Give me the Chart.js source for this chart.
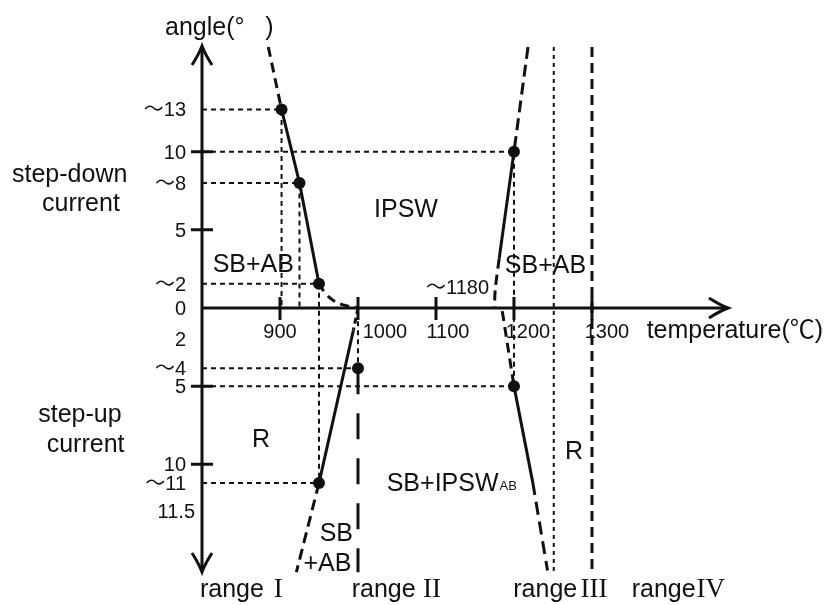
<!DOCTYPE html>
<html>
<head>
<meta charset="utf-8">
<script src="https://cdn.jsdelivr.net/npm/chart.js@4.4.1/dist/chart.umd.min.js"></script>
<style>
html, body { margin: 0; padding: 0; background: #fff; }
#wrap { width: 839px; height: 605px; }
</style>
</head>
<body>
<div id="wrap"><canvas id="diagram"></canvas></div>
<script>
// x: temperature (deg C), y: angle (deg); step-down current above 0, step-up current below (negative)
const xTicks = [900, 1000, 1100, 1200, 1300];
const yTickValues = [12.7, 10, 8, 5, 1.55, 0, -2, -3.85, -5, -10, -11.2, -13];
const yTickLabels = ['〜13', '10', '〜8', '5', '〜2', '0', '2', '〜4', '5', '10', '〜11', '11.5'];
const yTickMarks = [10, 5, -5, -10];

// measured points
const points = [
    {x: 902, y: 12.7}, {x: 925, y: 8}, {x: 950, y: 1.55},
    {x: 1000, y: -3.85}, {x: 950, y: -11.2},
    {x: 1200, y: 10}, {x: 1200, y: -5}
];

// low temperature boundary, step-down side
const lowDownDashed = [{x: 885, y: 16.7}, {x: 902, y: 12.7}];
const lowDownSolid = [{x: 902, y: 12.7}, {x: 925, y: 8}, {x: 950, y: 1.55}];
const lowDownTail = [{x: 950, y: 1.55}, {x: 958, y: 0.95}, {x: 968, y: 0.5}, {x: 981, y: 0.2}, {x: 1000, y: 0}];
// low temperature boundary, step-up side
const lowUpDashedTop = [{x: 1000, y: 0}, {x: 994, y: -1.44}];
const lowUpSolid = [{x: 994, y: -1.44}, {x: 950, y: -11.2}];
const lowUpDashed = [{x: 950, y: -11.2}, {x: 921, y: -16.9}];
// high temperature boundary
const highDownDashed = [{x: 1218, y: 16.7}, {x: 1200, y: 10}];
const highDownSolid = [{x: 1200, y: 10}, {x: 1181, y: 3.15}];
const highDownTail = [{x: 1181, y: 3.15}, {x: 1176, y: 1.2}, {x: 1175, y: 0}];
const highUpDashedTop = [{x: 1185, y: -0.2}, {x: 1200, y: -5}];
const highUpSolid = [{x: 1200, y: -5}, {x: 1224, y: -11.14}];
const highUpDashed = [{x: 1224, y: -11.14}, {x: 1243, y: -16.8}];
// range borders
const border1000 = [{x: 1000, y: -3.85}, {x: 1000, y: -16.9}];
const border1250 = [{x: 1251, y: 16.7}, {x: 1251, y: -16.9}];
const border1300 = [{x: 1300, y: 16.7}, {x: 1300, y: -16.9}];

// guide lines from the measured points to the axes
const guides = [
    [{x: 800, y: 12.7}, {x: 902, y: 12.7}, {x: 902, y: 0}],
    [{x: 800, y: 10}, {x: 1200, y: 10}, {x: 1200, y: -5}],
    [{x: 800, y: 8}, {x: 925, y: 8}, {x: 925, y: 0}],
    [{x: 800, y: 1.55}, {x: 950, y: 1.55}, {x: 950, y: -11.2}],
    [{x: 800, y: -3.85}, {x: 1000, y: -3.85}, {x: 1000, y: 0}],
    [{x: 800, y: -5}, {x: 1200, y: -5}],
    [{x: 800, y: -11.2}, {x: 950, y: -11.2}]
];

const ink = '#111';
const sans = '"Liberation Sans", Arial, Helvetica, "Noto Sans CJK JP", sans-serif';
const serif = '"Liberation Serif", "Times New Roman", serif';

// text annotations, placed in data units
const notes = [
    {text: 'angle(°   )', x: 752.6, y: 17.47, align: 'left', size: 25},
    {text: 'step-down', x: 556.4, y: 8.06, align: 'left', size: 25},
    {text: 'current', x: 594.9, y: 6.21, align: 'left', size: 25},
    {text: 'step-up', x: 590, y: -7.27, align: 'left', size: 25},
    {text: 'current', x: 600.9, y: -9.19, align: 'left', size: 25},
    {text: 'IPSW', x: 1061.5, y: 5.8, align: 'center', size: 25},
    {text: 'SB+AB', x: 865.8, y: 2.32, align: 'center', size: 25},
    {text: 'SB+AB', x: 1240.4, y: 2.22, align: 'center', size: 25},
    {text: 'R', x: 875.6, y: -8.87, align: 'center', size: 25},
    {text: 'R', x: 1276.9, y: -9.63, align: 'center', size: 25},
    {text: 'SB+IPSW', x: 1036.8, y: -11.74, align: 'left', size: 25, sub: 'AB'},
    {text: 'SB', x: 972.2, y: -14.88, align: 'center', size: 25},
    {text: '+AB', x: 960.9, y: -16.84, align: 'center', size: 25},
    {text: '〜1180', x: 1127.6, y: 0.9, align: 'center', size: 20},
    {text: 'temperature(℃)', x: 1370.1, y: -1.95, align: 'left', size: 25},
    {text: 'range', x: 797.4, y: -18.49, align: 'left', size: 25},
    {text: 'I', x: 897.8, y: -18.49, align: 'center', size: 27, serif: true},
    {text: 'range', x: 991.9, y: -18.49, align: 'left', size: 25},
    {text: 'II', x: 1094.9, y: -18.49, align: 'center', size: 27, serif: true},
    {text: 'range', x: 1199.1, y: -18.49, align: 'left', size: 25},
    {text: 'III', x: 1302.6, y: -18.49, align: 'center', size: 27, serif: true},
    {text: 'range', x: 1350.9, y: -18.49, align: 'left', size: 25},
    {text: 'IV', x: 1452.3, y: -18.49, align: 'center', size: 27, serif: true}
];
// pixel shift of each x tick label from its tick
const xLabelShift = [0, 27, 12, 14, 15];

function seg(data, width, dash, tension) {
    return {
        data: data, showLine: true, borderColor: ink, borderWidth: width,
        borderDash: dash || [], pointRadius: 0, clip: false, tension: tension || 0
    };
}

const datasets = [
    ...guides.map(g => seg(g, 2, [5, 4])),
    seg(lowDownDashed, 3, [10, 6]),
    seg(lowDownSolid, 3),
    seg(lowDownTail, 3, [9, 6], 0.4),
    seg(lowUpDashedTop, 3, [6, 4]),
    seg(lowUpSolid, 3),
    seg(lowUpDashed, 3, [11, 6]),
    seg(highDownDashed, 3, [12, 6]),
    seg(highDownSolid, 3),
    seg(highDownTail, 3, [10, 6], 0.3),
    seg(highUpDashedTop, 3, [10, 6]),
    seg(highUpSolid, 3),
    seg(highUpDashed, 3, [13, 7]),
    seg(border1000, 3, [26, 19]),
    seg(border1250, 2, [4, 4]),
    seg(border1300, 3, [10, 6]),
    {data: points, showLine: false, pointRadius: 6, pointBackgroundColor: ink, pointBorderWidth: 0, clip: false}
];

function chevron(ctx, x, y, dx, dy) {
    const px = -dy, py = dx;
    ctx.beginPath();
    ctx.moveTo(x - dx * 19 + px * 10, y - dy * 19 + py * 10);
    ctx.quadraticCurveTo(x - dx * 8 + px * 3, y - dy * 8 + py * 3, x, y);
    ctx.quadraticCurveTo(x - dx * 8 - px * 3, y - dy * 8 - py * 3, x - dx * 19 - px * 10, y - dy * 19 - py * 10);
    ctx.stroke();
}

const diagramAxes = {
    id: 'diagramAxes',
    beforeDatasetsDraw(chart) {
        const ctx = chart.ctx, xs = chart.scales.x, ys = chart.scales.y, a = chart.chartArea;
        const x0 = xs.getPixelForValue(800), y0 = ys.getPixelForValue(0);
        ctx.save();
        ctx.strokeStyle = ink;
        ctx.lineWidth = 3;
        ctx.beginPath();
        ctx.moveTo(x0, a.top + 1); ctx.lineTo(x0, a.bottom - 1);
        ctx.moveTo(x0, y0); ctx.lineTo(a.right - 1, y0);
        xTicks.forEach(v => {
            const p = xs.getPixelForValue(v);
            ctx.moveTo(p, y0 - 11); ctx.lineTo(p, y0 + 12);
        });
        yTickMarks.forEach(v => {
            const p = ys.getPixelForValue(v);
            ctx.moveTo(x0 - 11, p); ctx.lineTo(x0 + 11, p);
        });
        ctx.stroke();
        chevron(ctx, x0, a.top, 0, -1);
        chevron(ctx, x0, a.bottom, 0, 1);
        chevron(ctx, a.right, y0, 1, 0);

        ctx.fillStyle = ink;
        ctx.font = '20px ' + sans;
        ctx.textBaseline = 'alphabetic';
        ctx.textAlign = 'center';
        xTicks.forEach((v, i) => {
            ctx.fillText(String(v), xs.getPixelForValue(v) + xLabelShift[i], y0 + 30);
        });
        ctx.textAlign = 'right';
        yTickValues.forEach((v, i) => {
            const right = yTickLabels[i] === '11.5' ? x0 - 7 : x0 - 16;
            ctx.fillText(yTickLabels[i], right, ys.getPixelForValue(v) + 7);
        });
        ctx.restore();
    },
    afterDatasetsDraw(chart) {
        const ctx = chart.ctx, xs = chart.scales.x, ys = chart.scales.y;
        ctx.save();
        ctx.fillStyle = ink;
        ctx.textBaseline = 'alphabetic';
        notes.forEach(n => {
            ctx.font = n.size + 'px ' + (n.serif ? serif : sans);
            ctx.textAlign = n.align;
            const px = xs.getPixelForValue(n.x), py = ys.getPixelForValue(n.y);
            ctx.fillText(n.text, px, py);
            if (n.sub) {
                const w = ctx.measureText(n.text).width;
                ctx.font = '13px ' + sans;
                ctx.textAlign = 'left';
                ctx.fillText(n.sub, px + w + 1, py - 1);
            }
        });
        ctx.restore();
    }
};

new Chart(document.getElementById('diagram'), {
    type: 'scatter',
    data: {datasets: datasets},
    options: {
        responsive: true,
        maintainAspectRatio: false,
        animation: false,
        layout: {padding: {left: 202, right: 111, top: 46, bottom: 33}},
        plugins: {legend: {display: false}, tooltip: {enabled: false}},
        scales: {
            x: {type: 'linear', min: 800, max: 1474.4, display: false},
            y: {type: 'linear', min: -16.89, max: 16.76, display: false}
        }
    },
    plugins: [diagramAxes]
});
</script>
</body>
</html>
